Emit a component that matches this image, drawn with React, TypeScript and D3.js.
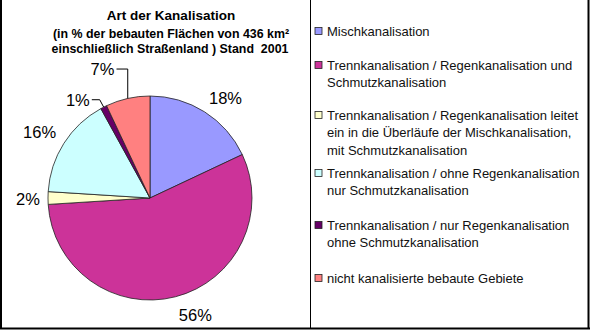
import React from "react";
import * as d3 from "d3";

// Kategorien und Anteile (in %)
const categories = [
  "Mischkanalisation",
  "Trennkanalisation / Regenkanalisation und Schmutzkanalisation",
  "Trennkanalisation / Regenkanalisation leitet ein in die Überläufe der Mischkanalisation, mit Schmutzkanalisation",
  "Trennkanalisation / ohne Regenkanalisation nur Schmutzkanalisation",
  "Trennkanalisation / nur Regenkanalisation ohne Schmutzkanalisation",
  "nicht kanalisierte bebaute Gebiete",
];
const values = [18, 56, 2, 16, 1, 7];
const colors = ["#9999ff", "#cc3399", "#ffffcc", "#ccffff", "#660066", "#ff8080"];
const legendLines = [
  ["Mischkanalisation"],
  ["Trennkanalisation / Regenkanalisation und", "Schmutzkanalisation"],
  [
    "Trennkanalisation / Regenkanalisation leitet",
    "ein in die Überläufe der Mischkanalisation,",
    "mit Schmutzkanalisation",
  ],
  ["Trennkanalisation / ohne Regenkanalisation", "nur Schmutzkanalisation"],
  ["Trennkanalisation / nur Regenkanalisation", "ohne Schmutzkanalisation"],
  ["nicht kanalisierte bebaute Gebiete"],
];
const titleLines = [
  "Art der Kanalisation",
  "(in % der bebauten Flächen von 436 km²",
  "einschließlich Straßenland ) Stand  2001",
];

const width = 590;
const height = 330;
const cx = 150;
const cy = 198;
const radius = 102;
const font = "'Liberation Sans', Arial, sans-serif";

// Label-Feinjustierung (Excel verschiebt die Beschriftungen etwas)
const labelRadius = 126;
const labelNudge = [
  [8, 6],
  [14, -5],
  [4, 1],
  [-4, 1],
  [-15, 14],
  [-20, -6],
];
const leaders = [false, false, false, false, true, true];
const legendY = [31, 65, 115, 173, 225, 278];
const lineH = 17.5;

const App = () => {
  const pie = d3
    .pie<number>()
    .sort(null)
    .startAngle(0)
    .endAngle(2 * Math.PI)
    .value((d) => d);
  const arcs = pie(values);
  const arc = d3.arc<d3.PieArcDatum<number>>().innerRadius(0).outerRadius(radius);

  return (
    <svg
      width={width}
      height={height}
      style={{ position: "absolute", left: 0, top: 0, background: "#fff" }}
      fontFamily={font}
    >
      {/* Titel */}
      <text x={171} y={20} textAnchor="middle" fontSize={13.5} fontWeight="bold">
        {titleLines[0]}
      </text>
      <text x={171} y={37.5} textAnchor="middle" fontSize={12.4} fontWeight="bold">
        {titleLines[1]}
      </text>
      <text x={170} y={52.5} textAnchor="middle" fontSize={12.4} fontWeight="bold" xmlSpace="preserve">
        {titleLines[2]}
      </text>

      {/* Kreis */}
      <g transform={`translate(${cx},${cy})`}>
        {arcs.map((a, i) => (
          <path key={i} d={arc(a) || ""} fill={colors[i]} stroke="#222" strokeWidth={0.8} />
        ))}
        {arcs.map((a, i) => {
          const mid = (a.startAngle + a.endAngle) / 2;
          const lx = Math.sin(mid) * labelRadius + labelNudge[i][0];
          const ly = -Math.cos(mid) * labelRadius + labelNudge[i][1];
          const ex = Math.sin(mid) * radius;
          const ey = -Math.cos(mid) * radius;
          let leader = null;
          if (leaders[i]) {
            const tx = lx + 14;
            const kx = i === 5 ? ex : ex - 4;
            leader = (
              <polyline
                points={`${tx},${ly} ${kx},${ly} ${ex},${ey}`}
                fill="none"
                stroke="#000"
                strokeWidth={1}
              />
            );
          }
          return (
            <g key={"l" + i}>
              {leader}
              <text
                x={lx}
                y={ly}
                textAnchor="middle"
                dominantBaseline="central"
                fontSize={16.5}
                fill="#000"
              >
                {values[i]}%
              </text>
            </g>
          );
        })}
      </g>

      {/* Legende */}
      {categories.map((c, i) => (
        <g key={c}>
          <rect
            x={315}
            y={legendY[i] - 3.5}
            width={7}
            height={7}
            fill={colors[i]}
            stroke="#222"
            strokeWidth={0.8}
          />
          {legendLines[i].map((t, j) => (
            <text
              key={j}
              x={327}
              y={legendY[i] + j * lineH}
              dominantBaseline="central"
              fontSize={13}
              fill="#111"
            >
              {t}
            </text>
          ))}
        </g>
      ))}

      {/* Rahmen */}
      <line x1={1} y1={0} x2={1} y2={329} stroke="#000" strokeWidth={2} />
      <line x1={310.5} y1={0} x2={310.5} y2={329} stroke="#000" strokeWidth={1} />
      <line x1={588.5} y1={0} x2={588.5} y2={329} stroke="#000" strokeWidth={2} />
      <line x1={0} y1={328.5} x2={590} y2={328.5} stroke="#000" strokeWidth={2} />
    </svg>
  );
};

export default App;
